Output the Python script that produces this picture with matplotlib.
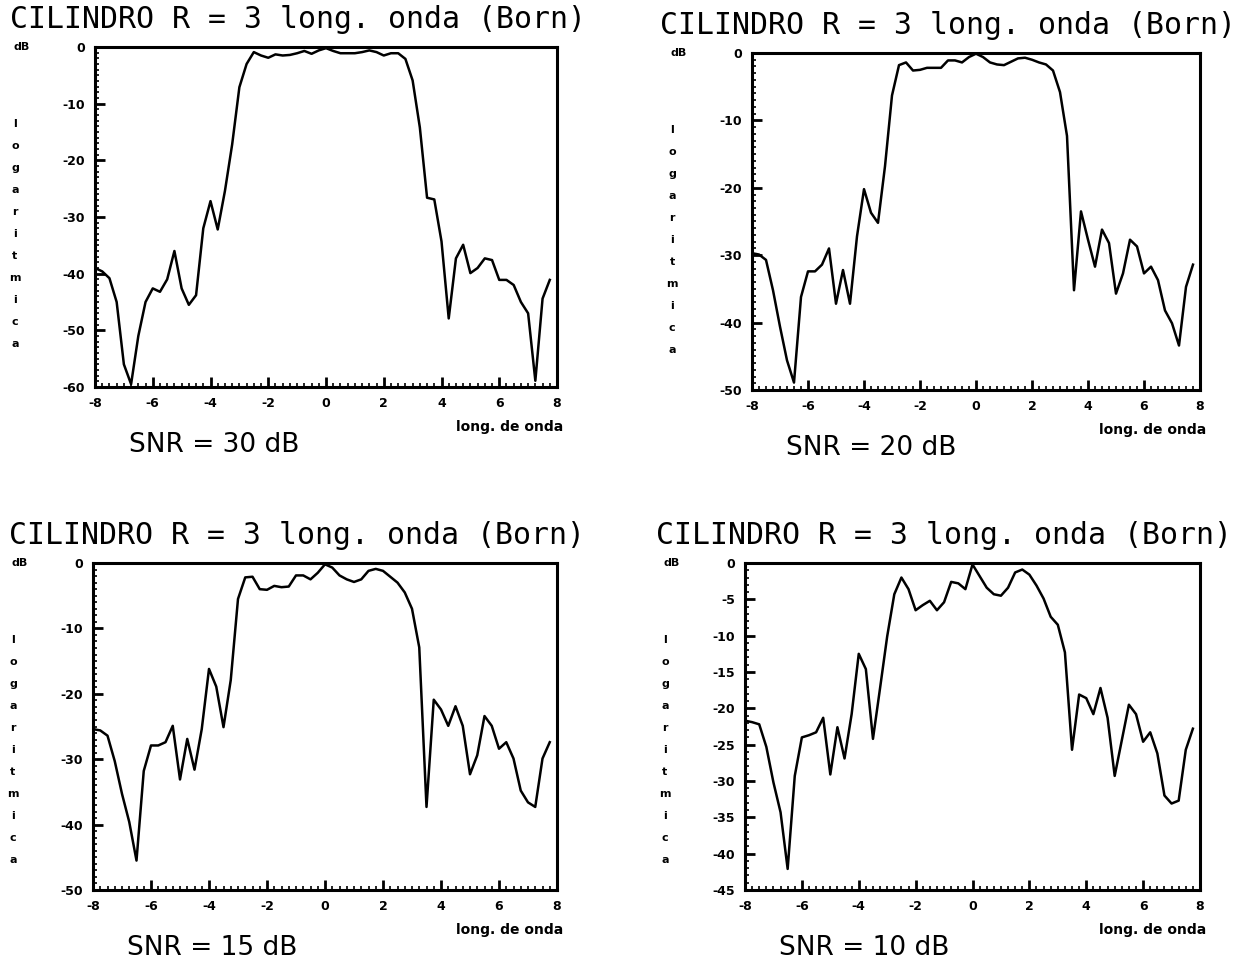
import numpy as np
import matplotlib
matplotlib.use("Agg")
from matplotlib import pyplot as plt
from matplotlib.ticker import MultipleLocator

plt.rcParams["axes.unicode_minus"] = False

# eixo x comum (longitudes de onda)
x = np.arange(-8, 8, 0.25)

snr30 = [-39, -39.6, -40.8, -45, -56, -59.5, -51, -45, -42.6, -43.2, -41, -36,
         -42.6, -45.5, -43.8, -32, -27.2, -32.2, -25.4, -17.2, -7.1, -3, -0.9, -1.5,
         -1.9, -1.3, -1.5, -1.4, -1.1, -0.7, -1.2, -0.6, -0.2, -0.7, -1.1, -1.1,
         -1.1, -0.9, -0.6, -0.9, -1.5, -1.1, -1.1, -2.1, -5.9, -14.2, -26.6, -26.9,
         -34.3, -47.9, -37.3, -34.9, -39.9, -39, -37.3, -37.6, -41.1, -41.1, -42, -45,
         -47, -58.9, -44.4, -41.1]

snr20 = [-29.7, -29.9, -30.7, -35.2, -40.6, -45.6, -48.9, -36.2, -32.4, -32.4, -31.4, -29,
         -37.2, -32.2, -37.2, -27.2, -20.2, -23.7, -25.2, -16.8, -6.3, -1.8, -1.4, -2.6,
         -2.5, -2.2, -2.2, -2.2, -1.1, -1.1, -1.4, -0.6, -0.1, -0.6, -1.4, -1.7,
         -1.8, -1.3, -0.8, -0.7, -1.0, -1.4, -1.7, -2.6, -5.8, -12.3, -35.2, -23.5,
         -27.7, -31.7, -26.2, -28.2, -35.7, -32.7, -27.7, -28.7, -32.7, -31.7, -33.7, -38.2,
         -40.1, -43.4, -34.7, -31.4]

snr15 = [-25.4, -25.6, -26.4, -30.3, -35.3, -39.6, -45.5, -31.8, -27.9, -27.9, -27.4, -24.9,
         -33.1, -26.9, -31.6, -25.4, -16.2, -18.9, -25.1, -17.9, -5.5, -2.2, -2.1, -4.0,
         -4.1, -3.5, -3.7, -3.6, -1.9, -1.9, -2.5, -1.5, -0.2, -0.7, -1.9, -2.5,
         -2.9, -2.5, -1.2, -0.9, -1.2, -2.1, -3.0, -4.5, -7.0, -12.9, -37.3, -20.9,
         -22.4, -24.9, -21.9, -24.9, -32.3, -29.4, -23.4, -24.9, -28.4, -27.4, -29.9, -34.8,
         -36.6, -37.3, -29.9, -27.4]

snr10 = [-21.7, -21.9, -22.2, -25.3, -30.2, -34.3, -42.1, -29.3, -24.0, -23.7, -23.3, -21.3,
         -29.1, -22.6, -26.9, -20.8, -12.5, -14.6, -24.2, -17.2, -10.1, -4.3, -2.0, -3.6,
         -6.5, -5.8, -5.2, -6.5, -5.4, -2.6, -2.8, -3.6, -0.2, -1.8, -3.4, -4.3,
         -4.5, -3.4, -1.3, -0.9, -1.6, -3.1, -4.9, -7.4, -8.5, -12.3, -25.7, -18.1,
         -18.6, -20.8, -17.2, -21.3, -29.3, -24.4, -19.5, -20.8, -24.6, -23.3, -26.2, -32.0,
         -33.1, -32.7, -25.7, -22.8]

curvas = [snr30, snr20, snr15, snr10]
rotulos_snr = ["SNR = 30 dB", "SNR = 20 dB", "SNR = 15 dB", "SNR = 10 dB"]
limites_y = [-60, -50, -50, -45]
passos_y = [10, 10, 10, 5]
titulo = "CILINDRO R = 3 long. onda (Born)"
letras = "logaritmica"

W, H = 1254, 975
fig = plt.figure(figsize=(W / 100, H / 100), dpi=100)

# caixas em pixeis: esquerda, topo, direita, base
caixas = [(95, 47, 557, 387), (752, 53, 1200, 390),
          (93, 563, 557, 890), (745, 563, 1200, 890)]

for i, (c, (l, t, r, b)) in enumerate(zip(curvas, caixas)):
    ax = fig.add_axes([l / W, 1 - b / H, (r - l) / W, (b - t) / H])
    ax.plot(x, c, color="black", lw=1.8)
    ax.set_xlim(-8, 8)
    ax.set_ylim(limites_y[i], 0)
    ax.xaxis.set_major_locator(MultipleLocator(2))
    ax.xaxis.set_minor_locator(MultipleLocator(0.25))
    ax.yaxis.set_major_locator(MultipleLocator(passos_y[i]))
    ax.yaxis.set_minor_locator(MultipleLocator(1))
    ax.tick_params(which="major", direction="in", length=7, width=2, labelsize=9, pad=7)
    ax.tick_params(which="minor", direction="in", length=3, width=1.2)
    for s in ax.spines.values():
        s.set_linewidth(2.2)
    for lab in ax.get_xticklabels() + ax.get_yticklabels():
        lab.set_fontweight("bold")

    # textos
    fig.text(((l + r) / 2 - 28) / W, 1 - (t - 27) / H, titulo, ha="center", va="center",
             fontsize=21.5, family="DejaVu Sans Mono")
    fig.text((l - 73) / W, 1 - t / H, "dB", ha="center", va="center",
             fontsize=8, fontweight="bold")
    for k, ch in enumerate(letras):
        fig.text((l - 80) / W, 1 - (t + 77 + k * 22) / H, ch, ha="center", va="center",
                 fontsize=8, fontweight="bold")
    fig.text((l + 119) / W, 1 - (b + 58) / H, rotulos_snr[i], ha="center", va="center",
             fontsize=19)
    fig.text((r - 47) / W, 1 - (b + 40) / H, "long. de onda", ha="center", va="center",
             fontsize=10, fontweight="bold")

fig.savefig("out.png", dpi=100)
